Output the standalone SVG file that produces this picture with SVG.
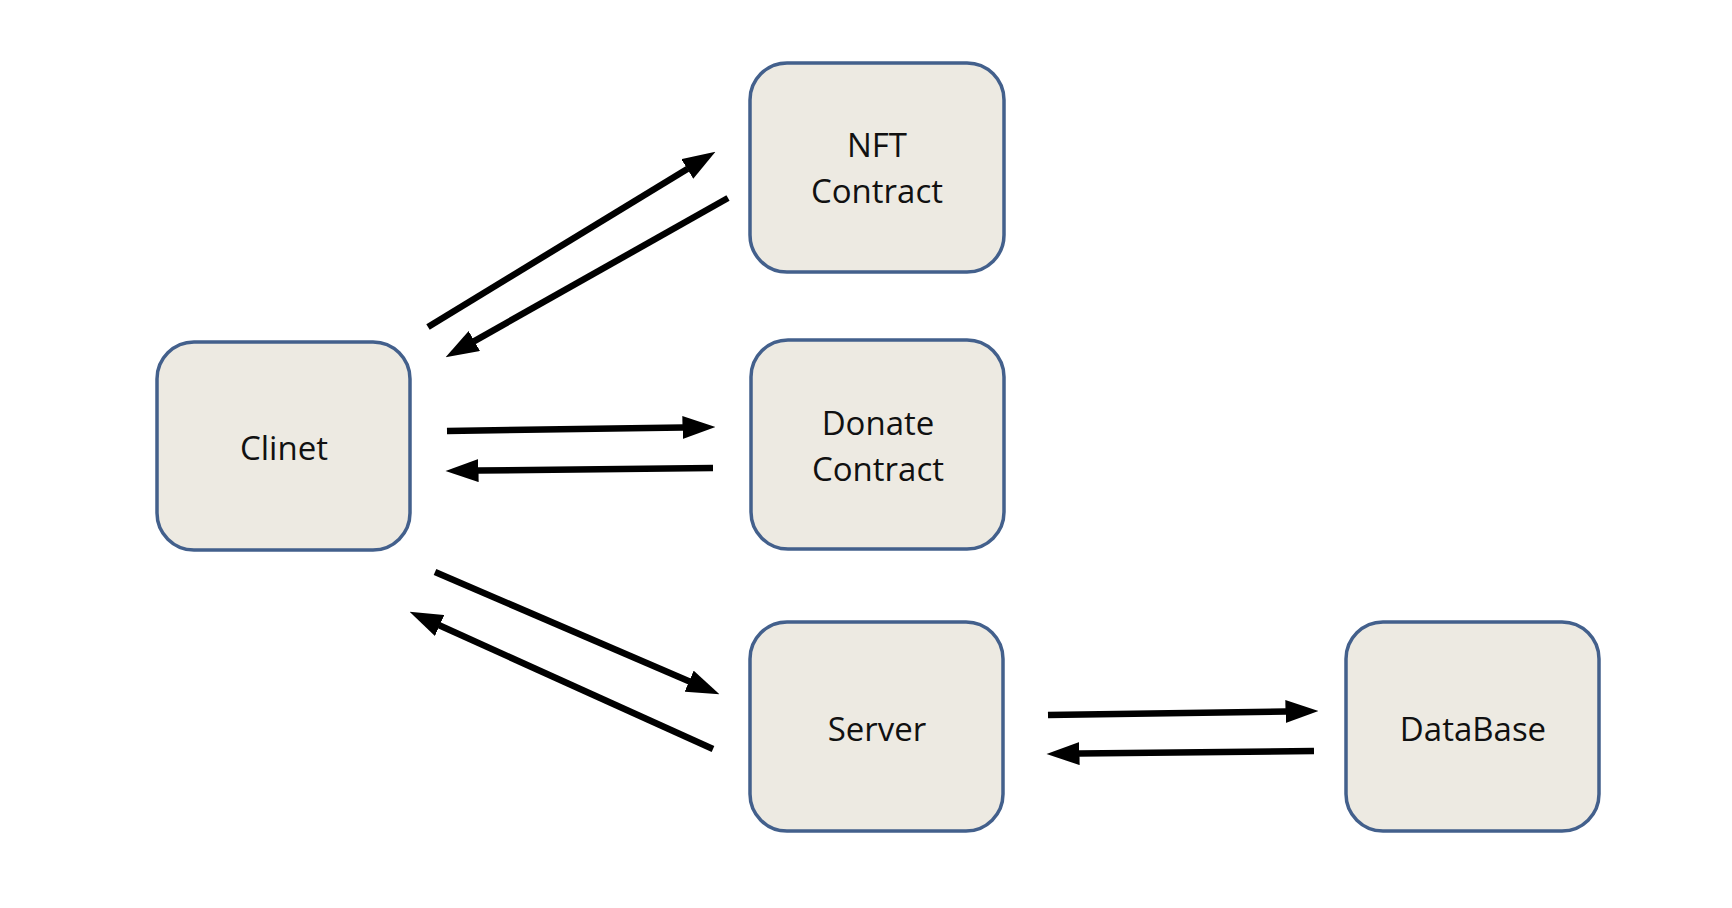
<svg xmlns="http://www.w3.org/2000/svg" width="1732" height="908" viewBox="0 0 1732 908">
<style>
.box{fill:#EDEAE2;stroke:#43608C;stroke-width:3.5}
.lbl{font-family:"Open Sans","Noto Sans","Liberation Sans",sans-serif;font-size:33px;fill:#111;text-anchor:middle}
.arr{stroke:#000;stroke-width:6.5;fill:none;marker-end:url(#ah)}
</style>
<defs>
<marker id="ah" markerUnits="userSpaceOnUse" markerWidth="33" markerHeight="23" refX="0.5" refY="11.5" orient="auto" viewBox="0 0 33 23">
<path d="M0,0 L33,11.5 L0,23 z" fill="#000"/>
</marker>
</defs>
<rect width="1732" height="908" fill="#fff"/>
<g id="connectors">
<line class="arr" x1="428" y1="327" x2="687.7" y2="168.7"/>
<line class="arr" x1="728" y1="198" x2="473.9" y2="341.3"/>
<line class="arr" x1="447" y1="431" x2="683" y2="427.5"/>
<line class="arr" x1="713" y1="468" x2="478" y2="470.6"/>
<line class="arr" x1="435" y1="572" x2="689.6" y2="681.4"/>
<line class="arr" x1="713" y1="749" x2="439.2" y2="625.2"/>
<line class="arr" x1="1048" y1="715" x2="1286" y2="711.5"/>
<line class="arr" x1="1314" y1="751" x2="1079" y2="753.6"/>
</g>
<g id="clinet">
<rect class="box" x="157" y="342" width="253" height="208" rx="37"/>
<text class="lbl" x="284" y="460">Clinet</text>
</g>
<g id="nft">
<rect class="box" x="750" y="63" width="254" height="209" rx="37"/>
<text class="lbl" x="877" y="157">NFT</text>
<text class="lbl" x="877" y="203">Contract</text>
</g>
<g id="donate">
<rect class="box" x="751" y="340" width="253" height="209" rx="37"/>
<text class="lbl" x="878" y="435">Donate</text>
<text class="lbl" x="878" y="481">Contract</text>
</g>
<g id="server">
<rect class="box" x="750" y="622" width="253" height="209" rx="37"/>
<text class="lbl" x="877" y="741">Server</text>
</g>
<g id="database">
<rect class="box" x="1346" y="622" width="253" height="209" rx="37"/>
<text class="lbl" x="1473" y="741">DataBase</text>
</g>
</svg>
